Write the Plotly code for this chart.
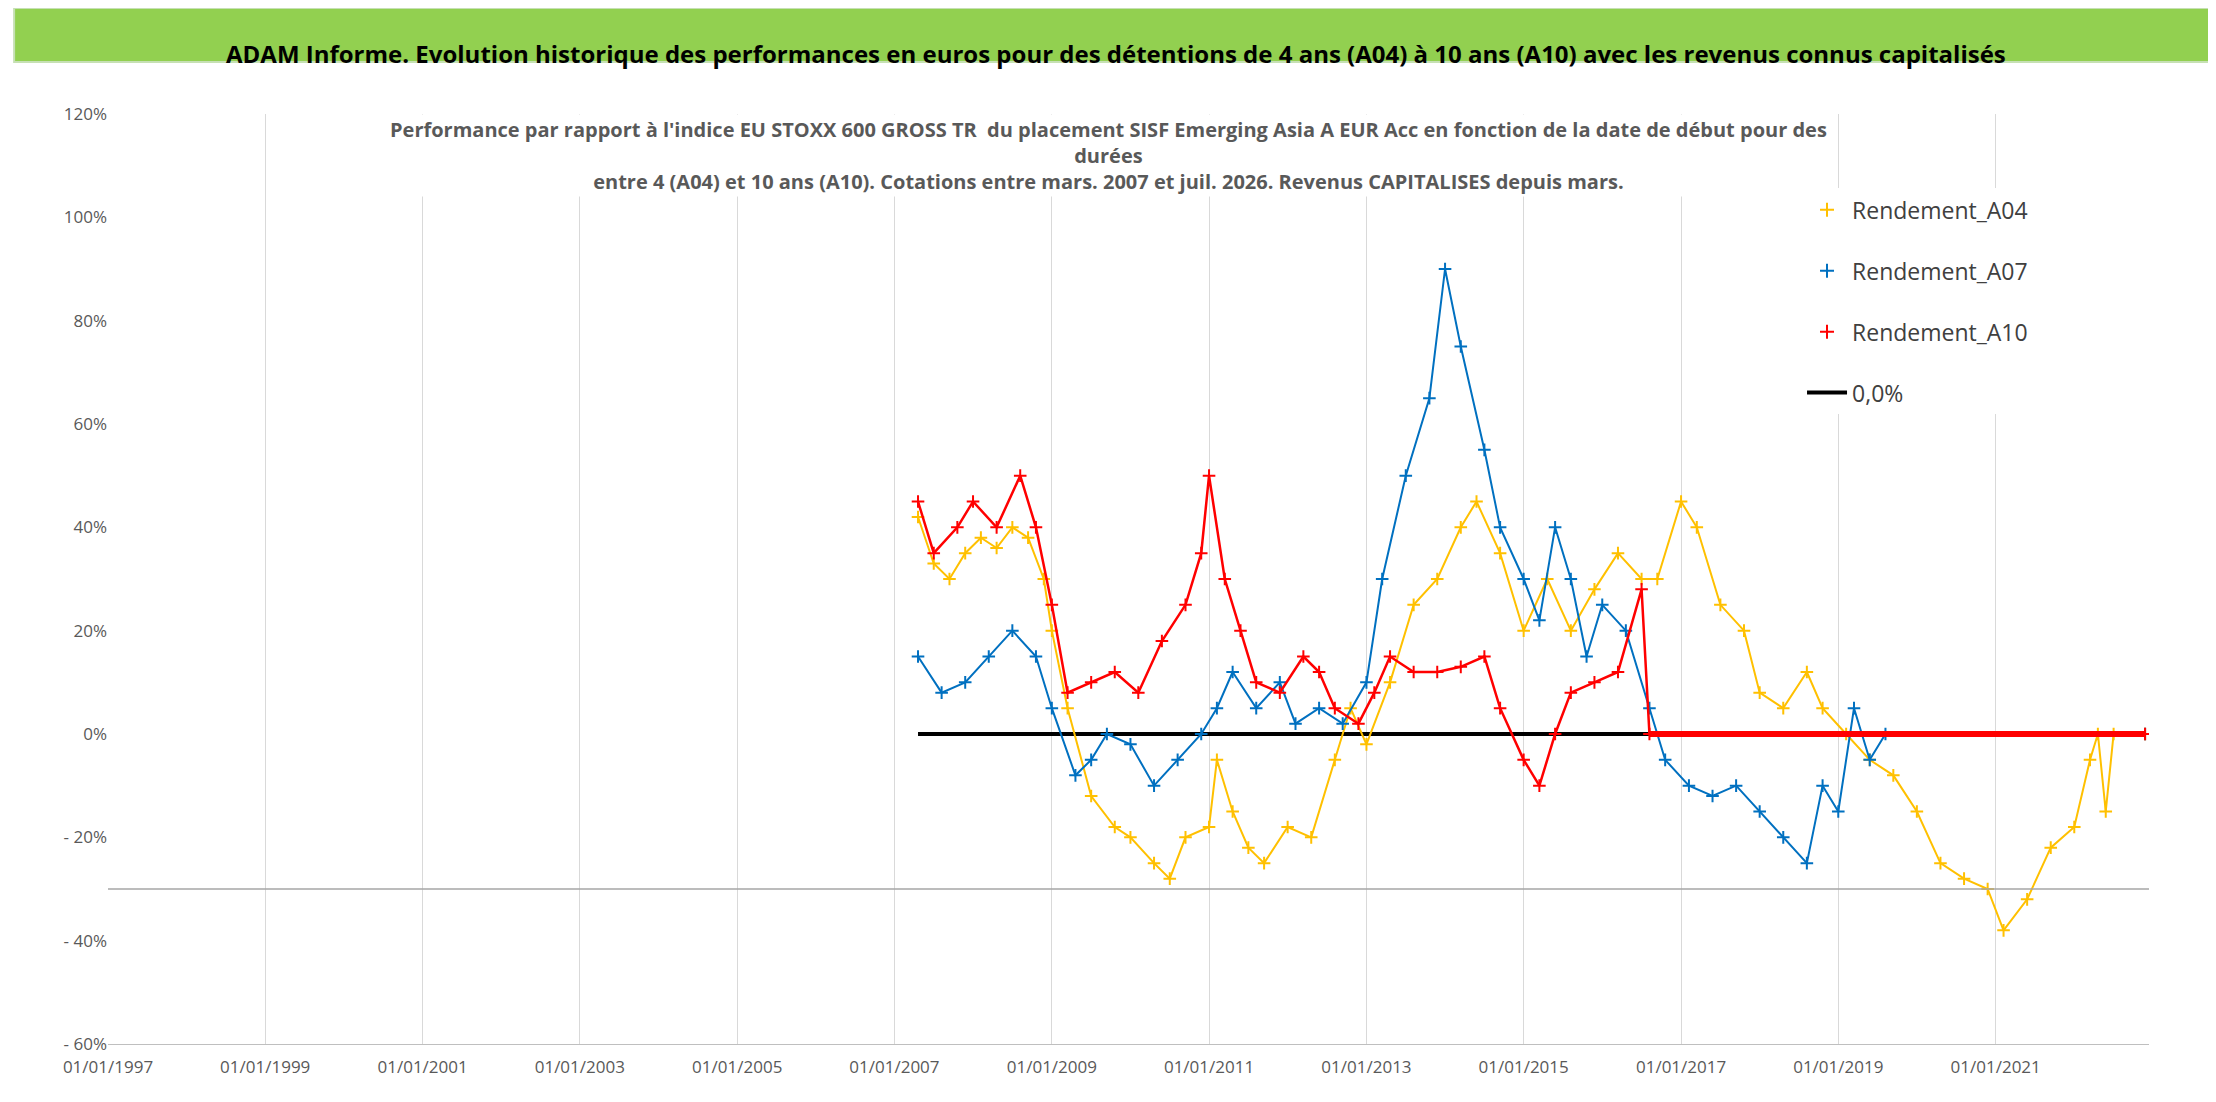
import plotly.graph_objects as go
import datetime as dt

def d(y):
    yr = int(y); frac = y - yr
    return dt.datetime(yr, 1, 1) + dt.timedelta(days=frac * 365.25)

a04_t = [2007.3,2007.5,2007.7,2007.9,2008.1,2008.3,2008.5,2008.7,2008.9,2009.0,2009.2,2009.5,2009.8,2010.0,2010.3,2010.5,2010.7,2011.0,2011.1,2011.3,2011.5,2011.7,2012.0,2012.3,2012.6,2012.8,2013.0,2013.3,2013.6,2013.9,2014.2,2014.4,2014.7,2015.0,2015.3,2015.6,2015.9,2016.2,2016.5,2016.7,2017.0,2017.2,2017.5,2017.8,2018.0,2018.3,2018.6,2018.8,2019.1,2019.4,2019.7,2020.0,2020.3,2020.6,2020.9,2021.1,2021.4,2021.7,2022.0,2022.2,2022.3,2022.4,2022.5,2022.9]
a04_v = [42,33,30,35,38,36,40,38,30,20,5,-12,-18,-20,-25,-28,-20,-18,-5,-15,-22,-25,-18,-20,-5,5,-2,10,25,30,40,45,35,20,30,20,28,35,30,30,45,40,25,20,8,5,12,5,0,-5,-8,-15,-25,-28,-30,-38,-32,-22,-18,-5,0,-15,0,0]
a07_t = [2007.3,2007.6,2007.9,2008.2,2008.5,2008.8,2009.0,2009.3,2009.5,2009.7,2010.0,2010.3,2010.6,2010.9,2011.1,2011.3,2011.6,2011.9,2012.1,2012.4,2012.7,2013.0,2013.2,2013.5,2013.8,2014.0,2014.2,2014.5,2014.7,2015.0,2015.2,2015.4,2015.6,2015.8,2016.0,2016.3,2016.6,2016.8,2017.1,2017.4,2017.7,2018.0,2018.3,2018.6,2018.8,2019.0,2019.2,2019.4,2019.6,2022.9]
a07_v = [15,8,10,15,20,15,5,-8,-5,0,-2,-10,-5,0,5,12,5,10,2,5,2,10,30,50,65,90,75,55,40,30,22,40,30,15,25,20,5,-5,-10,-12,-10,-15,-20,-25,-10,-15,5,-5,0,0]
a10_t = [2007.3,2007.5,2007.8,2008.0,2008.3,2008.6,2008.8,2009.0,2009.2,2009.5,2009.8,2010.1,2010.4,2010.7,2010.9,2011.0,2011.2,2011.4,2011.6,2011.9,2012.2,2012.4,2012.6,2012.9,2013.1,2013.3,2013.6,2013.9,2014.2,2014.5,2014.7,2015.0,2015.2,2015.4,2015.6,2015.9,2016.2,2016.5,2016.6,2022.9]
a10_v = [45,35,40,45,40,50,40,25,8,10,12,8,18,25,35,50,30,20,10,8,15,12,5,2,8,15,12,12,13,15,5,-5,-10,0,8,10,12,28,0,0]
zero_t = [2007.3, 2016.6]
zero_v = [0, 0]
yticks = [-60,-40,-20,0,20,40,60,80,100,120]
ytext = ["- 60%","- 40%","- 20%","0%","20%","40%","60%","80%","100%","120%"]
xticks = [d(y) for y in range(1997, 2023, 2)]
xtext = ["01/01/%d" % y for y in range(1997, 2023, 2)]
FONT = "Open Sans"

fig = go.Figure()
fig.add_trace(go.Scatter(x=[d(t) for t in zero_t], y=zero_v, mode="lines", line=dict(color="black", width=4), showlegend=False))
series = [("Rendement_A04", a04_t, a04_v, "#FFC000"), ("Rendement_A07", a07_t, a07_v, "#0070C0"), ("Rendement_A10", a10_t, a10_v, "#FF0000")]
for name, t, v, c in series:
    x = [d(q) for q in t]
    fig.add_trace(go.Scatter(x=x, y=v, mode="lines+markers", showlegend=False,
                             line=dict(color=c, width=2 if name != "Rendement_A10" else 2.5),
                             marker=dict(symbol="cross-thin", size=9, line=dict(color=c, width=2))))
fig.add_trace(go.Scatter(x=[d(a10_t[-2]), d(a10_t[-1])], y=a10_v[-2:], mode="lines", line=dict(color="#FF0000", width=6), showlegend=False))
for i, (name, t, v, c) in enumerate(series):
    fig.add_trace(go.Scatter(x=[None], y=[None], mode="markers", name=name, legendgroup="g%d" % i,
                             marker=dict(symbol="cross-thin", size=10, line=dict(color=c, width=2))))
fig.add_trace(go.Scatter(x=[None], y=[None], mode="lines", line=dict(color="black", width=4), name="0,0%", legendgroup="g9"))
fig.add_shape(type="line", xref="paper", yref="y", x0=0, x1=1, y0=-30, y1=-30, line=dict(color="#A6A6A6", width=1.5))
fig.add_shape(type="rect", xref="paper", yref="paper", x0=-0.046, x1=1.035, y0=1.056, y1=1.114, fillcolor="#92D050", line=dict(color="#C6E0B4", width=2), layer="below")
fig.add_annotation(xref="paper", yref="paper", x=0.494, y=1.085, showarrow=False,
                   text="<b>ADAM Informe. Evolution historique des performances en euros pour des détentions de 4 ans (A04) à 10 ans (A10) avec les revenus connus capitalisés</b>",
                   font=dict(size=24, color="black", family=FONT))
fig.add_annotation(xref="paper", yref="paper", x=0.49, y=1.0, yanchor="top", showarrow=False,
                   text="<b>Performance par rapport à l'indice EU STOXX 600 GROSS TR  du placement SISF Emerging Asia A EUR Acc en fonction de la date de début pour des<br>durées<br>entre 4 (A04) et 10 ans (A10). Cotations entre mars. 2007 et juil. 2026. Revenus CAPITALISES depuis mars.</b>",
                   font=dict(size=20, color="#595959", family=FONT), bgcolor="white")
fig.update_layout(width=2216, height=1102, margin=dict(l=100, r=75, t=106, b=66), plot_bgcolor="white", paper_bgcolor="white",
                  font=dict(family=FONT, color="#595959", size=17),
                  legend=dict(x=0.83, y=0.92, xanchor="left", yanchor="top", bgcolor="white", font=dict(size=23, color="#404040"), tracegroupgap=28, itemwidth=40, traceorder="grouped"),
                  xaxis=dict(range=[d(1997.0), d(2022.95)], tickvals=xticks, ticktext=xtext, showgrid=True, gridcolor="#D9D9D9", linecolor="#BFBFBF", ticks="", zeroline=False, ticklabelstandoff=8),
                  yaxis=dict(range=[-60, 120], tickvals=yticks, ticktext=ytext, showgrid=False, zeroline=False, showline=False))
fig.write_html("out.html")
